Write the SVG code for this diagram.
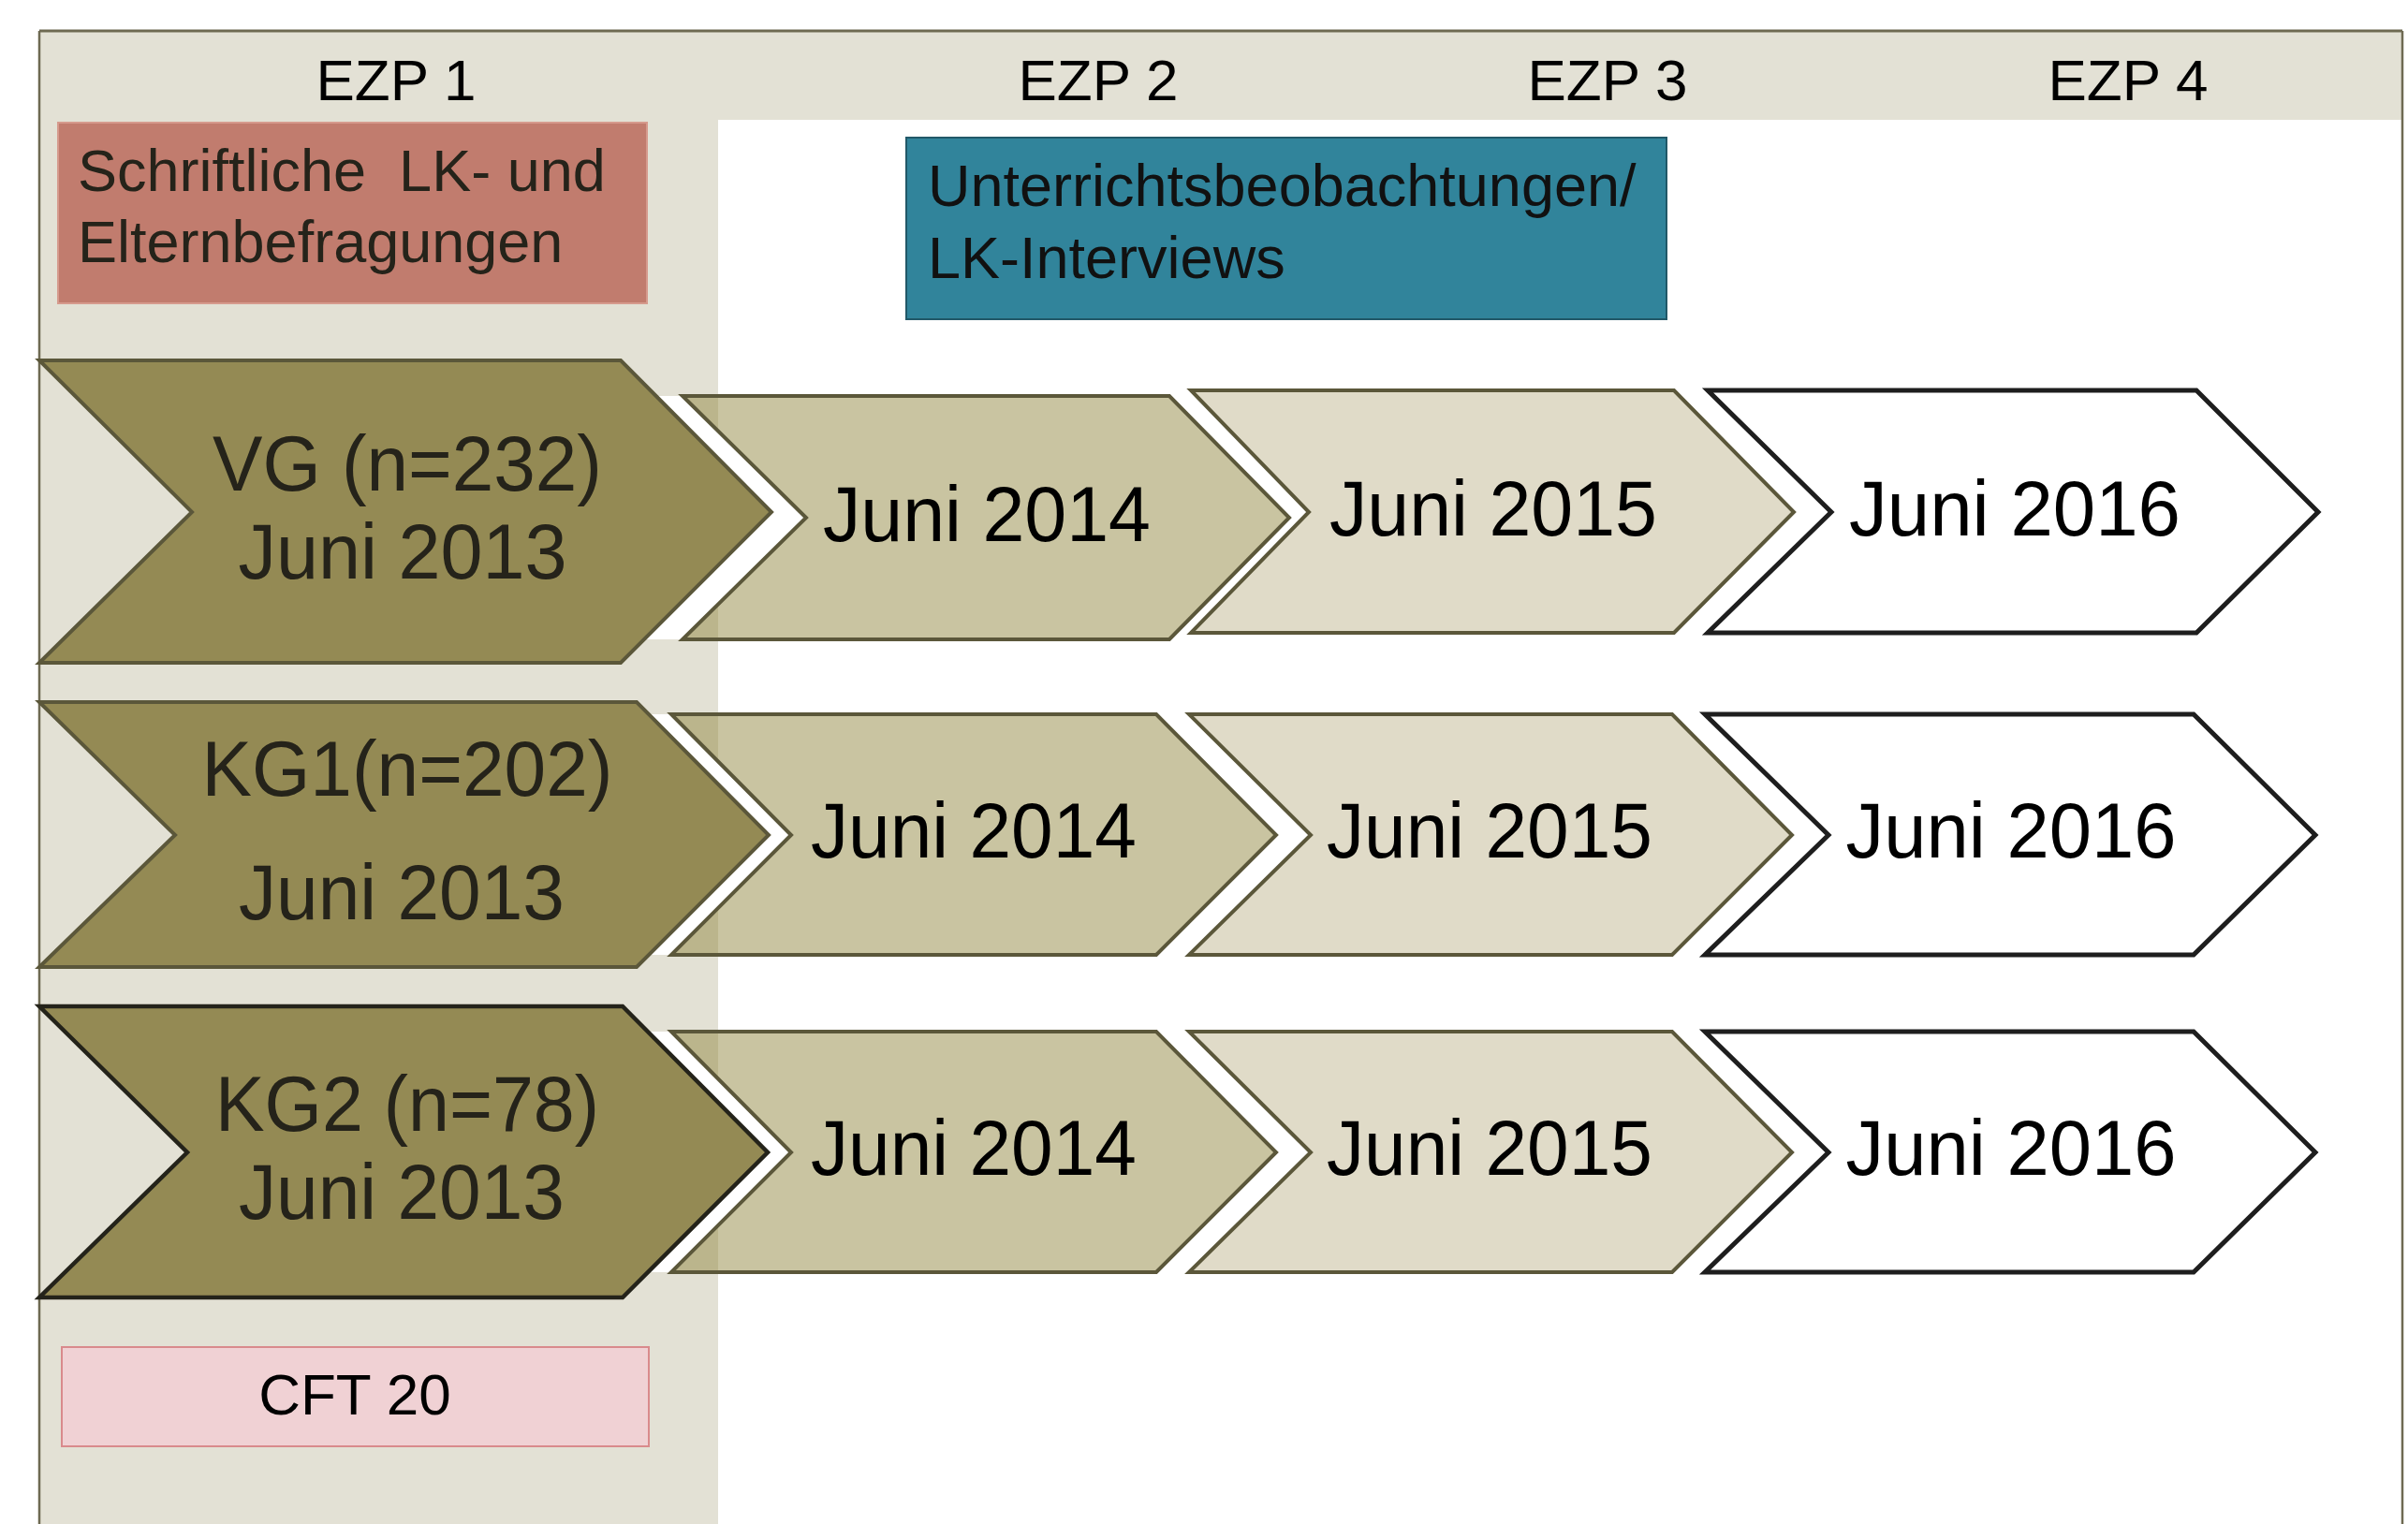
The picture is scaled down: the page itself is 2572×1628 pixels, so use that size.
<svg xmlns="http://www.w3.org/2000/svg" width="2572" height="1628" viewBox="0 0 2572 1628">
  <style>
    .hdr { font-family: "Liberation Sans", Arial, sans-serif; font-size: 62px; fill: #000; text-anchor: middle; }
    .box { font-family: "Liberation Sans", Arial, sans-serif; font-size: 63px; }
    .chev { font-family: "Liberation Sans", Arial, sans-serif; font-size: 84px; text-anchor: middle; lengthAdjust: spacingAndGlyphs; }
    .dark { fill: #25231A; }
    .blk { fill: #000; }
    .c1 { fill: #948A54; stroke: #5B573A; stroke-width: 4; stroke-linejoin: miter; }
    .c1b { fill: #948A54; stroke: #24231A; stroke-width: 4.5; stroke-linejoin: miter; }
    .c2 { fill: #938943; fill-opacity: 0.5; stroke: #5B573A; stroke-width: 4; stroke-linejoin: miter; }
    .c3 { fill: #E0DBC8; stroke: #5B573A; stroke-width: 4; stroke-linejoin: miter; }
    .c4 { fill: #FFFFFF; stroke: #1E1E1E; stroke-width: 5; stroke-linejoin: miter; }
    .gap { fill: #FFFFFF; }
  </style>
  <rect x="0" y="0" width="2572" height="1628" fill="#FFFFFF"/>

  <g id="frame">
    <rect x="42" y="33" width="725" height="1595" fill="#E3E1D5"/>
    <rect x="767" y="33" width="1799" height="95" fill="#E3E1D5"/>
    <line x1="42" y1="33" x2="2566" y2="33" stroke="#6E6A52" stroke-width="3"/>
    <line x1="42" y1="33" x2="42" y2="1628" stroke="#6E6A52" stroke-width="2.5"/>
    <line x1="2566" y1="33" x2="2566" y2="1628" stroke="#6E6A52" stroke-width="2.5"/>
  </g>

  <g id="headers">
    <text class="hdr" x="423" y="107">EZP 1</text>
    <text class="hdr" x="1173" y="107">EZP 2</text>
    <text class="hdr" x="1717" y="107">EZP 3</text>
    <text class="hdr" x="2273" y="107">EZP 4</text>
  </g>

  <g id="befragungen">
    <rect x="62" y="131" width="629" height="193" fill="#C17C6E" stroke="#D69A8D" stroke-width="2"/>
    <text class="box dark" x="83" y="204" xml:space="preserve">Schriftliche  LK- und</text>
    <text class="box dark" x="83" y="280">Elternbefragungen</text>
  </g>

  <g id="beobachtungen">
    <rect x="968" y="147" width="812" height="194" fill="#31849B" stroke="#215868" stroke-width="2"/>
    <text class="box" x="991" y="220" fill="#111111">Unterrichtsbeobachtungen/</text>
    <text class="box" x="991" y="297" fill="#111111">LK-Interviews</text>
  </g>

  <g id="cft">
    <rect x="66" y="1439" width="627" height="106" fill="#F0D1D4" stroke="#D98A8C" stroke-width="2"/>
    <text class="hdr" x="379" y="1511">CFT 20</text>
  </g>

  <g id="connectors">
    <polygon class="gap" points="701,423 729,423 861,553 729,683 688,683 824,547"/>
    <polygon class="gap" points="693,763 717,763 845,892 717,1020 694,1020 821,892"/>
    <polygon class="gap" points="692,1102 717,1102 845,1231 717,1359 692,1359 820,1231"/>
  </g>

  <g id="vg-2013">
    <polygon class="c1" points="42,385 663,385 824,547 663,708 42,708 205,547"/>
    <text class="chev dark" x="435" y="524" textLength="416" lengthAdjust="spacingAndGlyphs">VG (n=232)</text>
    <text class="chev dark" x="430" y="618" textLength="351" lengthAdjust="spacingAndGlyphs">Juni 2013</text>
  </g>
  <g id="vg-2014">
    <polygon class="c2" points="729,423 1249,423 1377,553 1249,683 729,683 861,553"/>
    <text class="chev blk" x="1054" y="578" textLength="350" lengthAdjust="spacingAndGlyphs">Juni 2014</text>
  </g>
  <g id="vg-2015">
    <polygon class="c3" points="1272,417 1788,417 1916,547 1788,676 1272,676 1398,547"/>
    <text class="chev blk" x="1595" y="572" textLength="350" lengthAdjust="spacingAndGlyphs">Juni 2015</text>
  </g>
  <g id="vg-2016">
    <polygon class="c4" points="1824,417 2346,417 2476,547 2346,676 1824,676 1956,547"/>
    <text class="chev blk" x="2152" y="572" textLength="354" lengthAdjust="spacingAndGlyphs">Juni 2016</text>
  </g>

  <g id="kg1-2013">
    <polygon class="c1" points="42,750 680,750 821,892 680,1033 42,1033 187,892"/>
    <text class="chev dark" x="435" y="850" textLength="439" lengthAdjust="spacingAndGlyphs">KG1(n=202)</text>
    <text class="chev dark" x="429" y="982" textLength="348" lengthAdjust="spacingAndGlyphs">Juni 2013</text>
  </g>
  <g id="kg1-2014">
    <polygon class="c2" points="717,763 1235,763 1363,892 1235,1020 717,1020 845,892"/>
    <text class="chev blk" x="1040" y="916" textLength="348" lengthAdjust="spacingAndGlyphs">Juni 2014</text>
  </g>
  <g id="kg1-2015">
    <polygon class="c3" points="1270,763 1786,763 1914,892 1786,1020 1270,1020 1400,892"/>
    <text class="chev blk" x="1591" y="916" textLength="348" lengthAdjust="spacingAndGlyphs">Juni 2015</text>
  </g>
  <g id="kg1-2016">
    <polygon class="c4" points="1821,763 2343,763 2473,892 2343,1020 1821,1020 1953,892"/>
    <text class="chev blk" x="2148" y="916" textLength="353" lengthAdjust="spacingAndGlyphs">Juni 2016</text>
  </g>

  <g id="kg2-2013">
    <polygon class="c1b" points="42,1075 665,1075 820,1231 665,1386 42,1386 200,1231"/>
    <text class="chev dark" x="435" y="1208" textLength="410" lengthAdjust="spacingAndGlyphs">KG2 (n=78)</text>
    <text class="chev dark" x="429" y="1302" textLength="348" lengthAdjust="spacingAndGlyphs">Juni 2013</text>
  </g>
  <g id="kg2-2014">
    <polygon class="c2" points="717,1102 1235,1102 1363,1231 1235,1359 717,1359 845,1231"/>
    <text class="chev blk" x="1040" y="1255" textLength="348" lengthAdjust="spacingAndGlyphs">Juni 2014</text>
  </g>
  <g id="kg2-2015">
    <polygon class="c3" points="1270,1102 1786,1102 1914,1231 1786,1359 1270,1359 1400,1231"/>
    <text class="chev blk" x="1591" y="1255" textLength="348" lengthAdjust="spacingAndGlyphs">Juni 2015</text>
  </g>
  <g id="kg2-2016">
    <polygon class="c4" points="1821,1102 2343,1102 2473,1231 2343,1359 1821,1359 1953,1231"/>
    <text class="chev blk" x="2148" y="1255" textLength="353" lengthAdjust="spacingAndGlyphs">Juni 2016</text>
  </g>
</svg>
